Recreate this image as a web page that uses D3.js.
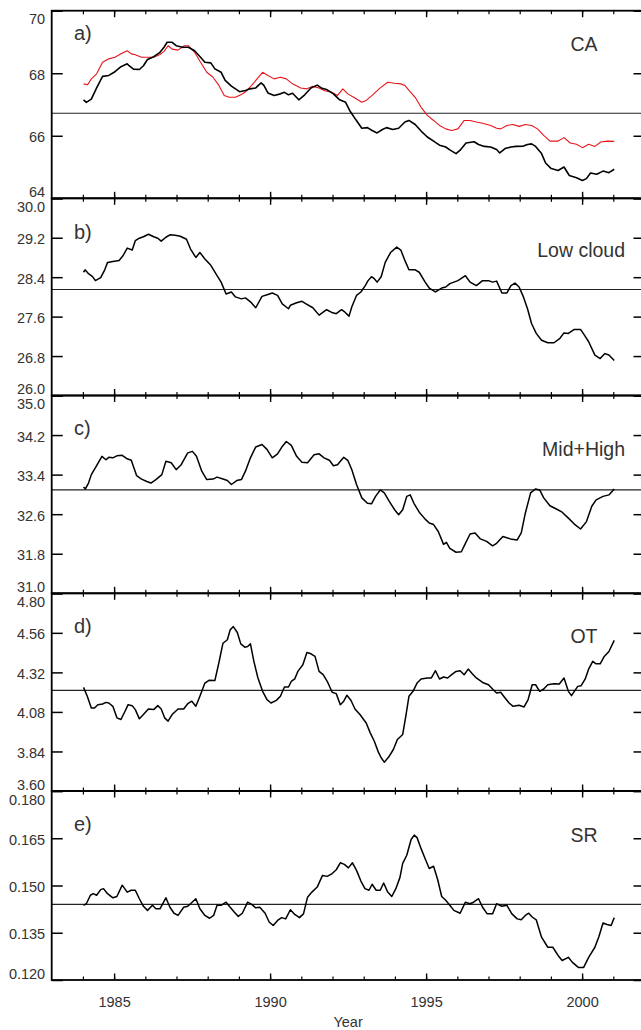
<!DOCTYPE html>
<html>
<head>
<meta charset="utf-8">
<script src="https://cdn.jsdelivr.net/npm/d3@7"></script>
<style>
html, body { margin: 0; padding: 0; background: #fff; }
svg { display: block; font-family: "Liberation Sans", Arial, Helvetica, sans-serif; }
</style>
</head>
<body>
<div id="chart"></div>
<script>
// values, [year, value]
var caBlack = [[1984.02,67.15],[1984.11,67.07],[1984.27,67.17],[1984.44,67.53],[1984.63,67.90],[1984.83,67.93],[1985.00,68.03],[1985.22,68.21],[1985.42,68.30],[1985.48,68.24],[1985.62,68.13],[1985.81,68.12],[1985.94,68.24],[1986.07,68.44],[1986.27,68.53],[1986.47,68.67],[1986.60,68.83],[1986.70,68.99],[1986.86,68.99],[1986.99,68.88],[1987.19,68.83],[1987.38,68.83],[1987.58,68.72],[1987.77,68.51],[1987.91,68.35],[1988.10,68.33],[1988.23,68.14],[1988.43,68.03],[1988.56,67.77],[1988.76,67.59],[1989.02,67.41],[1989.21,67.45],[1989.35,67.50],[1989.54,67.53],[1989.71,67.69],[1989.80,67.61],[1989.93,67.37],[1990.13,67.29],[1990.33,67.34],[1990.46,67.39],[1990.59,67.31],[1990.72,67.36],[1990.92,67.15],[1991.11,67.31],[1991.31,67.53],[1991.51,67.62],[1991.64,67.53],[1991.83,67.47],[1992.03,67.34],[1992.23,67.15],[1992.42,67.07],[1992.55,66.81],[1992.75,66.51],[1992.94,66.24],[1993.12,66.26],[1993.27,66.17],[1993.43,66.09],[1993.60,66.20],[1993.73,66.26],[1993.93,66.20],[1994.12,66.24],[1994.32,66.44],[1994.45,66.49],[1994.65,66.36],[1994.84,66.15],[1995.04,65.96],[1995.24,65.83],[1995.43,65.70],[1995.63,65.64],[1995.76,65.55],[1995.96,65.43],[1996.09,65.54],[1996.28,65.77],[1996.54,65.81],[1996.68,65.72],[1996.87,65.66],[1997.07,65.64],[1997.26,65.56],[1997.36,65.45],[1997.53,65.59],[1997.72,65.64],[1997.88,65.66],[1998.12,65.67],[1998.25,65.72],[1998.38,65.74],[1998.51,65.66],[1998.70,65.43],[1998.83,65.13],[1999.01,64.95],[1999.23,64.89],[1999.42,65.00],[1999.59,64.73],[1999.82,64.66],[2000.01,64.57],[2000.14,64.63],[2000.27,64.81],[2000.47,64.77],[2000.67,64.87],[2000.86,64.82],[2001.03,64.93]];

var caRed = [[1984.02,67.66],[1984.15,67.63],[1984.27,67.82],[1984.44,67.98],[1984.63,68.35],[1984.83,68.46],[1985.03,68.51],[1985.22,68.62],[1985.42,68.72],[1985.55,68.62],[1985.68,68.59],[1985.88,68.51],[1986.07,68.51],[1986.27,68.51],[1986.47,68.60],[1986.60,68.70],[1986.73,68.88],[1986.86,68.77],[1987.05,68.74],[1987.25,68.88],[1987.38,68.88],[1987.58,68.67],[1987.77,68.35],[1987.97,68.03],[1988.17,67.87],[1988.36,67.61],[1988.53,67.29],[1988.69,67.23],[1988.89,67.23],[1989.08,67.32],[1989.21,67.40],[1989.41,67.61],[1989.61,67.85],[1989.76,68.03],[1989.93,67.93],[1990.13,67.82],[1990.33,67.87],[1990.52,67.82],[1990.72,67.66],[1990.98,67.53],[1991.18,67.50],[1991.37,67.58],[1991.57,67.53],[1991.77,67.43],[1991.96,67.40],[1992.16,67.29],[1992.33,67.50],[1992.49,67.34],[1992.68,67.23],[1992.94,67.07],[1993.08,67.13],[1993.27,67.29],[1993.53,67.53],[1993.77,67.71],[1993.99,67.68],[1994.19,67.66],[1994.32,67.61],[1994.45,67.45],[1994.65,67.23],[1994.84,66.91],[1995.04,66.65],[1995.24,66.49],[1995.43,66.33],[1995.63,66.22],[1995.82,66.17],[1996.02,66.22],[1996.22,66.49],[1996.41,66.49],[1996.61,66.44],[1996.81,66.40],[1997.07,66.33],[1997.26,66.24],[1997.39,66.22],[1997.59,66.33],[1997.79,66.36],[1997.98,66.30],[1998.18,66.36],[1998.38,66.33],[1998.57,66.22],[1998.77,66.01],[1998.97,65.83],[1999.23,65.83],[1999.42,65.94],[1999.62,65.77],[1999.82,65.73],[2000.01,65.62],[2000.21,65.73],[2000.41,65.66],[2000.60,65.80],[2000.80,65.83],[2001.03,65.82]];

var lowCloud = [[1984.02,28.50],[1984.07,28.55],[1984.18,28.47],[1984.31,28.41],[1984.40,28.33],[1984.57,28.39],[1984.70,28.55],[1984.79,28.70],[1984.96,28.72],[1985.16,28.74],[1985.29,28.84],[1985.42,28.99],[1985.58,28.95],[1985.68,29.14],[1985.81,29.19],[1985.94,29.22],[1986.10,29.27],[1986.27,29.22],[1986.40,29.19],[1986.51,29.13],[1986.66,29.21],[1986.79,29.26],[1986.96,29.25],[1987.12,29.23],[1987.32,29.17],[1987.45,28.97],[1987.62,28.80],[1987.75,28.90],[1987.91,28.77],[1988.10,28.64],[1988.30,28.43],[1988.43,28.30],[1988.59,28.06],[1988.76,28.10],[1988.89,28.00],[1989.08,27.96],[1989.21,27.98],[1989.37,27.90],[1989.54,27.78],[1989.74,28.01],[1989.93,28.05],[1990.07,28.08],[1990.24,28.03],[1990.39,27.86],[1990.59,27.76],[1990.65,27.83],[1990.85,27.88],[1991.02,27.91],[1991.18,27.85],[1991.37,27.78],[1991.57,27.63],[1991.81,27.74],[1991.96,27.69],[1992.12,27.66],[1992.29,27.74],[1992.40,27.69],[1992.53,27.61],[1992.62,27.80],[1992.77,28.03],[1992.91,28.10],[1993.05,28.23],[1993.14,28.33],[1993.25,28.41],[1993.34,28.37],[1993.43,28.30],[1993.56,28.41],[1993.69,28.70],[1993.86,28.90],[1994.06,29.01],[1994.19,28.95],[1994.32,28.74],[1994.45,28.55],[1994.65,28.55],[1994.78,28.50],[1994.97,28.30],[1995.10,28.18],[1995.30,28.10],[1995.50,28.18],[1995.63,28.20],[1995.76,28.27],[1995.89,28.30],[1996.02,28.33],[1996.26,28.43],[1996.41,28.30],[1996.61,28.23],[1996.81,28.33],[1997.00,28.33],[1997.13,28.30],[1997.26,28.32],[1997.43,28.08],[1997.59,28.08],[1997.72,28.23],[1997.85,28.28],[1997.98,28.20],[1998.12,28.00],[1998.25,27.76],[1998.38,27.46],[1998.53,27.26],[1998.70,27.12],[1998.90,27.07],[1999.10,27.07],[1999.29,27.16],[1999.42,27.27],[1999.56,27.26],[1999.75,27.34],[1999.95,27.34],[2000.08,27.22],[2000.21,27.09],[2000.41,26.82],[2000.58,26.75],[2000.73,26.85],[2000.86,26.82],[2001.03,26.71]];

var midHigh = [[1984.02,33.15],[1984.08,33.11],[1984.18,33.23],[1984.27,33.40],[1984.44,33.58],[1984.61,33.77],[1984.74,33.70],[1984.83,33.75],[1984.96,33.74],[1985.09,33.78],[1985.26,33.79],[1985.42,33.72],[1985.55,33.69],[1985.72,33.38],[1985.88,33.31],[1986.05,33.26],[1986.18,33.23],[1986.34,33.30],[1986.53,33.40],[1986.66,33.67],[1986.83,33.64],[1986.99,33.50],[1987.15,33.60],[1987.36,33.84],[1987.51,33.87],[1987.64,33.77],[1987.81,33.47],[1987.97,33.30],[1988.17,33.31],[1988.30,33.35],[1988.49,33.31],[1988.63,33.28],[1988.76,33.20],[1988.93,33.28],[1989.08,33.30],[1989.21,33.47],[1989.37,33.74],[1989.54,33.96],[1989.74,34.01],[1989.90,33.91],[1990.07,33.74],[1990.24,33.82],[1990.39,33.97],[1990.52,34.07],[1990.68,33.99],[1990.85,33.77],[1991.02,33.65],[1991.20,33.64],[1991.41,33.80],[1991.57,33.82],[1991.73,33.74],[1991.90,33.69],[1992.03,33.58],[1992.16,33.60],[1992.36,33.75],[1992.49,33.69],[1992.62,33.50],[1992.77,33.20],[1992.94,32.93],[1993.12,32.82],[1993.25,32.81],[1993.38,32.96],[1993.53,33.09],[1993.66,33.03],[1993.82,32.86],[1993.99,32.69],[1994.12,32.59],[1994.25,32.69],[1994.38,32.96],[1994.49,32.99],[1994.61,32.82],[1994.78,32.64],[1994.97,32.50],[1995.10,32.42],[1995.24,32.39],[1995.39,32.25],[1995.56,31.99],[1995.65,32.03],[1995.76,31.91],[1995.96,31.83],[1996.13,31.84],[1996.26,32.01],[1996.41,32.20],[1996.57,32.22],[1996.74,32.10],[1996.94,32.05],[1997.13,31.96],[1997.26,32.01],[1997.46,32.15],[1997.70,32.10],[1997.92,32.08],[1998.05,32.22],[1998.18,32.62],[1998.35,33.03],[1998.51,33.11],[1998.64,33.09],[1998.77,32.93],[1998.97,32.77],[1999.16,32.71],[1999.36,32.64],[1999.56,32.52],[1999.75,32.40],[1999.95,32.30],[2000.14,32.45],[2000.31,32.76],[2000.45,32.89],[2000.67,32.96],[2000.86,32.99],[2001.03,33.11]];

var opticalThickness = [[1984.02,4.229],[1984.14,4.175],[1984.27,4.104],[1984.37,4.104],[1984.48,4.124],[1984.63,4.128],[1984.74,4.138],[1984.83,4.134],[1984.96,4.114],[1985.09,4.044],[1985.22,4.034],[1985.35,4.084],[1985.45,4.124],[1985.58,4.118],[1985.68,4.094],[1985.81,4.038],[1985.94,4.064],[1986.10,4.098],[1986.27,4.094],[1986.40,4.118],[1986.51,4.098],[1986.62,4.044],[1986.73,4.024],[1986.86,4.064],[1987.05,4.098],[1987.23,4.098],[1987.36,4.130],[1987.49,4.145],[1987.62,4.114],[1987.75,4.175],[1987.91,4.255],[1988.04,4.272],[1988.23,4.270],[1988.36,4.380],[1988.49,4.497],[1988.63,4.518],[1988.72,4.578],[1988.82,4.598],[1988.95,4.562],[1989.06,4.493],[1989.19,4.473],[1989.28,4.477],[1989.37,4.493],[1989.48,4.387],[1989.61,4.286],[1989.76,4.205],[1989.90,4.155],[1990.03,4.134],[1990.20,4.150],[1990.33,4.175],[1990.46,4.231],[1990.59,4.231],[1990.68,4.266],[1990.79,4.280],[1990.89,4.326],[1991.05,4.366],[1991.18,4.441],[1991.31,4.433],[1991.44,4.417],[1991.57,4.326],[1991.70,4.306],[1991.83,4.266],[1991.99,4.199],[1992.12,4.191],[1992.25,4.124],[1992.36,4.145],[1992.46,4.181],[1992.59,4.151],[1992.72,4.098],[1992.88,4.064],[1993.08,4.013],[1993.21,3.953],[1993.34,3.902],[1993.47,3.836],[1993.56,3.802],[1993.66,3.775],[1993.80,3.806],[1993.95,3.852],[1994.08,3.913],[1994.25,3.943],[1994.35,4.054],[1994.45,4.175],[1994.58,4.205],[1994.71,4.255],[1994.84,4.280],[1995.04,4.286],[1995.17,4.286],[1995.30,4.330],[1995.43,4.280],[1995.56,4.292],[1995.69,4.286],[1995.82,4.306],[1995.96,4.326],[1996.09,4.330],[1996.22,4.306],[1996.35,4.340],[1996.48,4.312],[1996.61,4.286],[1996.81,4.259],[1997.00,4.245],[1997.13,4.219],[1997.26,4.195],[1997.39,4.199],[1997.53,4.165],[1997.66,4.134],[1997.79,4.114],[1997.98,4.120],[1998.14,4.110],[1998.27,4.155],[1998.40,4.245],[1998.51,4.245],[1998.64,4.205],[1998.77,4.219],[1998.90,4.245],[1999.10,4.251],[1999.27,4.249],[1999.42,4.286],[1999.56,4.205],[1999.66,4.179],[1999.75,4.205],[1999.86,4.235],[1999.97,4.239],[2000.10,4.280],[2000.21,4.340],[2000.34,4.387],[2000.45,4.372],[2000.58,4.372],[2000.71,4.417],[2000.86,4.447],[2001.03,4.514]];

var srValues = [[1984.02,0.1437],[1984.11,0.1442],[1984.24,0.1469],[1984.33,0.1474],[1984.44,0.1469],[1984.57,0.1487],[1984.66,0.1490],[1984.79,0.1474],[1984.96,0.1461],[1985.09,0.1465],[1985.26,0.1501],[1985.42,0.1479],[1985.55,0.1485],[1985.68,0.1485],[1985.81,0.1458],[1985.94,0.1434],[1986.07,0.1421],[1986.23,0.1437],[1986.34,0.1426],[1986.47,0.1426],[1986.66,0.1461],[1986.79,0.1431],[1986.92,0.1412],[1987.05,0.1405],[1987.23,0.1431],[1987.36,0.1434],[1987.45,0.1442],[1987.62,0.1458],[1987.75,0.1426],[1987.91,0.1405],[1988.06,0.1396],[1988.19,0.1405],[1988.30,0.1437],[1988.43,0.1437],[1988.59,0.1447],[1988.72,0.1431],[1988.85,0.1416],[1988.98,0.1402],[1989.11,0.1412],[1989.28,0.1447],[1989.41,0.1440],[1989.54,0.1429],[1989.67,0.1431],[1989.84,0.1412],[1989.97,0.1384],[1990.10,0.1373],[1990.24,0.1389],[1990.37,0.1398],[1990.50,0.1394],[1990.65,0.1423],[1990.79,0.1408],[1990.94,0.1398],[1991.07,0.1410],[1991.20,0.1463],[1991.34,0.1479],[1991.51,0.1495],[1991.68,0.1532],[1991.83,0.1529],[1991.99,0.1538],[1992.12,0.1550],[1992.25,0.1572],[1992.38,0.1567],[1992.51,0.1556],[1992.64,0.1572],[1992.77,0.1548],[1992.91,0.1514],[1993.04,0.1490],[1993.17,0.1485],[1993.27,0.1504],[1993.40,0.1485],[1993.53,0.1485],[1993.64,0.1508],[1993.77,0.1479],[1993.90,0.1465],[1994.03,0.1490],[1994.16,0.1525],[1994.25,0.1570],[1994.38,0.1596],[1994.52,0.1646],[1994.62,0.1660],[1994.71,0.1652],[1994.84,0.1617],[1994.97,0.1585],[1995.10,0.1554],[1995.24,0.1561],[1995.37,0.1519],[1995.50,0.1465],[1995.63,0.1453],[1995.76,0.1437],[1995.89,0.1421],[1996.09,0.1412],[1996.26,0.1447],[1996.41,0.1442],[1996.52,0.1447],[1996.68,0.1458],[1996.81,0.1431],[1996.96,0.1410],[1997.13,0.1410],[1997.26,0.1442],[1997.43,0.1434],[1997.59,0.1437],[1997.75,0.1410],[1997.92,0.1394],[1998.05,0.1391],[1998.18,0.1405],[1998.29,0.1412],[1998.40,0.1400],[1998.53,0.1391],[1998.70,0.1336],[1998.90,0.1304],[1999.06,0.1304],[1999.23,0.1278],[1999.36,0.1262],[1999.56,0.1272],[1999.69,0.1256],[1999.88,0.1240],[2000.05,0.1240],[2000.21,0.1272],[2000.41,0.1304],[2000.54,0.1338],[2000.67,0.1381],[2000.80,0.1376],[2000.93,0.1373],[2001.03,0.1398]];

// horizontal reference (mean) lines, one per panel
var meanValues = [66.72, 28.15, 33.09, 4.211, 0.1440];

var caTicks = [64, 66, 68, 70];
var lowTicks = [26.0, 26.8, 27.6, 28.4, 29.2, 30.0];
var midTicks = [31.0, 31.8, 32.6, 33.4, 34.2, 35.0];
var otTicks = [3.60, 3.84, 4.08, 4.32, 4.56, 4.80];
var srTicks = [0.120, 0.135, 0.150, 0.165, 0.180];

var yearTicks = d3.range(1984, 2002);
var yearLabels = [1985, 1990, 1995, 2000];

var width = 641,
    height = 1030;

var svg = d3.select("#chart").append("svg")
    .attr("width", width)
    .attr("height", height);

var xScale = d3.scaleLinear()
    .domain([1983, 2002])
    .range([51.7, 644.5]);

var panels = [
    { top: 10.7, bottom: 198.3, domain: [64, 70], ticks: caTicks, fmt: "d", mean: meanValues[0],
      series: [{ data: caRed, color: "#e8141b", w: 1.1 }, { data: caBlack, color: "#000", w: 1.6 }],
      letter: "a)", letterY: 40, name: "CA", nameX: 584, nameY: 50.5, anchor: "middle" },
    { top: 198.3, bottom: 395.5, domain: [26, 30], ticks: lowTicks, fmt: ".1f", mean: meanValues[1],
      series: [{ data: lowCloud, color: "#000", w: 1.5 }],
      letter: "b)", letterY: 239, name: "Low cloud", nameX: 625, nameY: 256.5, anchor: "end" },
    { top: 395.5, bottom: 593.3, domain: [31, 35], ticks: midTicks, fmt: ".1f", mean: meanValues[2],
      series: [{ data: midHigh, color: "#000", w: 1.5 }],
      letter: "c)", letterY: 435, name: "Mid+High", nameX: 625, nameY: 455.5, anchor: "end" },
    { top: 593.3, bottom: 791, domain: [3.6, 4.8], ticks: otTicks, fmt: ".2f", mean: meanValues[3],
      series: [{ data: opticalThickness, color: "#000", w: 1.5 }],
      letter: "d)", letterY: 633, name: "OT", nameX: 584, nameY: 643, anchor: "middle" },
    { top: 791, bottom: 980, domain: [0.12, 0.18], ticks: srTicks, fmt: ".3f", mean: meanValues[4],
      series: [{ data: srValues, color: "#000", w: 1.5 }],
      letter: "e)", letterY: 831, name: "SR", nameX: 584, nameY: 841.5, anchor: "middle" }
];

var x0 = xScale.range()[0],
    x1 = xScale.range()[1];

panels.forEach(function (p, i) {
    var yScale = d3.scaleLinear().domain(p.domain).range([p.bottom, p.top]);
    var g = svg.append("g");

    // mean line
    g.append("line")
        .attr("x1", x0).attr("x2", x1)
        .attr("y1", yScale(p.mean)).attr("y2", yScale(p.mean))
        .attr("stroke", "#222")
        .attr("stroke-width", 1.2);

    var line = d3.line()
        .x(function (d) { return xScale(d[0]); })
        .y(function (d) { return yScale(d[1]); });

    p.series.forEach(function (s) {
        g.append("path")
            .attr("d", line(s.data))
            .attr("fill", "none")
            .attr("stroke", s.color)
            .attr("stroke-width", s.w)
            .attr("stroke-linejoin", "round");
    });

    // left axis, ticks pointing in
    var left = g.append("g")
        .attr("transform", "translate(" + x0 + ",0)")
        .call(d3.axisLeft(yScale).tickValues(p.ticks).tickSize(-11).tickPadding(6.5)
            .tickFormat(d3.format(p.fmt)));
    left.select(".domain").remove();
    left.selectAll("line").attr("stroke", "#000").attr("stroke-width", 1.5);
    left.selectAll("text")
        .attr("font-size", 14.5)
        .attr("fill", "#333")
        .attr("font-family", null)
        .attr("dy", "0.35em")
        .attr("y", function (d) {
            if (d === p.domain[1]) return 8;
            if (d === p.domain[0]) return -7;
            return 1;
        });

    var right = g.append("g")
        .attr("transform", "translate(" + x1 + ",0)")
        .call(d3.axisRight(yScale).tickValues(p.ticks).tickSize(-11).tickFormat(""));
    right.select(".domain").remove();
    right.selectAll("line").attr("stroke", "#000").attr("stroke-width", 1.5);

    // year ticks on top and bottom edges
    [[d3.axisBottom, p.bottom], [d3.axisTop, p.top]].forEach(function (a) {
        var minor = g.append("g")
            .attr("transform", "translate(0," + a[1] + ")")
            .call(a[0](xScale).tickValues(yearTicks).tickSize(-3.5).tickFormat(""));
        minor.select(".domain").remove();
        minor.selectAll("line").attr("stroke", "#000").attr("stroke-width", 1.2);
        var major = g.append("g")
            .attr("transform", "translate(0," + a[1] + ")")
            .call(a[0](xScale).tickValues(yearLabels).tickSize(-6.5).tickFormat(""));
        major.select(".domain").remove();
        major.selectAll("line").attr("stroke", "#000").attr("stroke-width", 1.4);
    });

    // frame
    g.append("rect")
        .attr("x", x0).attr("y", p.top)
        .attr("width", x1 - x0).attr("height", p.bottom - p.top)
        .attr("fill", "none")
        .attr("stroke", "#000")
        .attr("stroke-width", 1.8);

    g.append("text")
        .attr("x", 74).attr("y", p.letterY)
        .attr("font-size", 20)
        .attr("fill", "#333")
        .text(p.letter);

    g.append("text")
        .attr("x", p.nameX).attr("y", p.nameY)
        .attr("text-anchor", p.anchor)
        .attr("font-size", 19.5)
        .attr("fill", "#333")
        .text(p.name);

    if (i === panels.length - 1) {
        var bottomLabels = g.append("g")
            .attr("transform", "translate(0," + p.bottom + ")")
            .call(d3.axisBottom(xScale).tickValues(yearLabels).tickSize(0).tickPadding(16.5)
                .tickFormat(d3.format("d")));
        bottomLabels.select(".domain").remove();
        bottomLabels.selectAll("text")
            .attr("font-size", 14.5)
            .attr("fill", "#333")
            .attr("font-family", null);
    }
});

svg.append("text")
    .attr("x", (x0 + x1) / 2)
    .attr("y", 1027)
    .attr("text-anchor", "middle")
    .attr("font-size", 14.5)
    .attr("fill", "#333")
    .text("Year");
</script>
</body>
</html>
